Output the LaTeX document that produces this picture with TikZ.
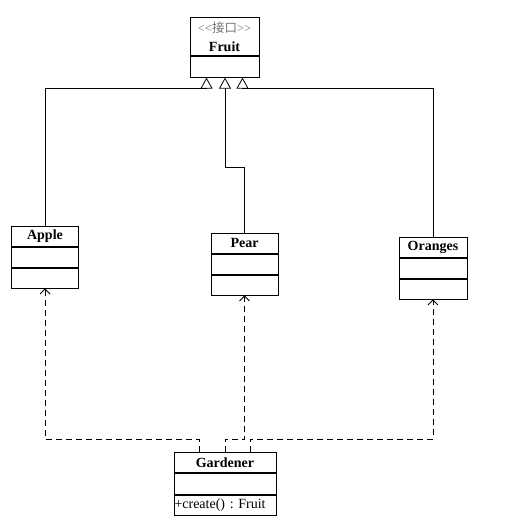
\documentclass[tikz,border=0pt]{standalone}
\usepackage{fontspec}
\setmainfont{Liberation Serif}
\newfontfamily\cjk{Noto Sans CJK SC}
\usetikzlibrary{positioning,calc,arrows.meta}
\newcommand{\stereotype}[1]{{\normalfont\fontsize{12.5}{13}\selectfont\color{black!55}<\kern0pt<{\cjk #1}>\kern0pt>}}

\begin{document}
\frenchspacing
\begin{tikzpicture}[x=1pt, y=1pt, line width=0.8pt,
        cls/.style={rectangle, draw, fill=white, inner sep=0pt, minimum height=20pt, font=\fontsize{14}{15}\selectfont\bfseries},
        part/.style={rectangle, draw, inner sep=0pt, minimum height=20pt},
        inherit/.style={-{Triangle[open, length=11pt, width=12pt]}},
        depend/.style={dash pattern=on 6pt off 4pt, -{Straight Barb[length=5pt, width=10pt]}}]

        \useasboundingbox (0,0) rectangle (512,-521);

        % interface
        \node [cls, minimum width=69pt, minimum height=38pt, align=center, anchor=north] (fruit) at (224.5,-17) {\stereotype{接口}\\[4pt]Fruit};
        \node [part, minimum width=69pt, minimum height=21pt, below=0pt of fruit] (fruit2) {};

        % implementations
        \node [cls, minimum width=67pt, anchor=north] (apple) at (45,-226) {Apple};
        \node [part, minimum width=67pt, below=0pt of apple] (apple2) {};
        \node [part, minimum width=67pt, below=0pt of apple2] (apple3) {};

        \node [cls, minimum width=67pt, anchor=north] (pear) at (244.5,-233) {Pear};
        \node [part, minimum width=67pt, below=0pt of pear] (pear2) {};
        \node [part, minimum width=67pt, below=0pt of pear2] (pear3) {};

        \node [cls, minimum width=68pt, anchor=north] (oranges) at (433,-237) {Oranges};
        \node [part, minimum width=68pt, below=0pt of oranges] (oranges2) {};
        \node [part, minimum width=68pt, below=0pt of oranges2] (oranges3) {};

        % factory
        \node [cls, minimum width=102pt, anchor=north] (gardener) at (225,-452) {Gardener};
        \node [part, minimum width=102pt, minimum height=21pt, below=0pt of gardener] (gardener2) {};
        \node [part, text width=101pt, inner xsep=0.5pt, align=left, font=\fontsize{14}{15}\selectfont, below=0pt of gardener2] (gardener3) {+create() : Fruit};

        \coordinate (tipA) at ([xshift=-18pt]fruit2.south);
        \coordinate (tipB) at ([xshift=0.5pt]fruit2.south);
        \coordinate (tipC) at ([xshift=18pt]fruit2.south);

        \draw [inherit] (apple.north) |- ([yshift=-11pt]tipA) -- (tipA);
        \draw [inherit] (pear.north) -- ++(0,66pt) -| (tipB);
        \draw [inherit] (oranges.north) |- ([yshift=-11pt]tipC) -- (tipC);

        \draw [depend] ([xshift=-26pt]gardener.north) -- ++(0,13pt) -| (apple3.south);
        \draw [depend] (gardener.north) -- ++(0,13pt) -| (pear3.south);
        \draw [depend] ([xshift=25pt]gardener.north) -- ++(0,13pt) -| (oranges3.south);
\end{tikzpicture}
\end{document}
